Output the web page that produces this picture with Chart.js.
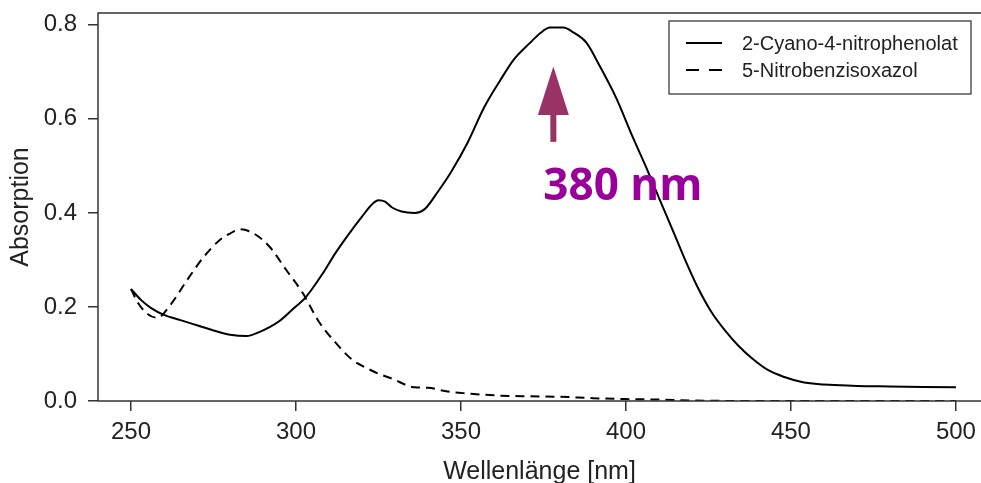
<!DOCTYPE html>
<html>
<head>
<meta charset="utf-8">
<title>Absorptionsspektren</title>
<script src="https://cdn.jsdelivr.net/npm/chart.js@4.4.1/dist/chart.umd.min.js"></script>
<style>
  body { margin: 0; background: #fff; overflow: hidden; }
  canvas { display: block; }
</style>
</head>
<body>
<canvas id="spectrum" width="981" height="483" style="width:981px;height:483px"></canvas>
<script>
// series labels
const seriesLabels = ['2-Cyano-4-nitrophenolat', '5-Nitrobenzisoxazol'];

// 2-Cyano-4-nitrophenolat (solid)
const cyanoWavelength = [250, 253, 256, 260, 265, 270, 275, 280, 285, 289, 292, 295, 299, 303, 308, 312, 316, 320, 323, 325, 327, 329, 332, 336, 339, 343, 347, 352, 357, 362, 366, 371, 374, 377, 381, 384, 388, 392, 397, 402, 406, 410, 414, 418, 422, 426, 430, 434, 438, 443, 448, 453, 458, 463, 470, 480, 490, 500];
const cyanoAbsorption = [0.238, 0.215, 0.198, 0.183, 0.172, 0.161, 0.150, 0.141, 0.138, 0.147, 0.157, 0.170, 0.195, 0.221, 0.270, 0.315, 0.355, 0.392, 0.418, 0.427, 0.424, 0.412, 0.403, 0.400, 0.408, 0.445, 0.487, 0.549, 0.624, 0.683, 0.726, 0.762, 0.782, 0.794, 0.794, 0.784, 0.762, 0.713, 0.645, 0.562, 0.499, 0.432, 0.366, 0.299, 0.238, 0.188, 0.150, 0.118, 0.092, 0.066, 0.051, 0.041, 0.036, 0.034, 0.032, 0.031, 0.030, 0.029];

// 5-Nitrobenzisoxazol (dashed)
const nitroWavelength = [250, 252, 255, 258, 262, 267, 272, 277, 280, 283, 287, 292, 297, 302, 307, 312, 317, 322, 325, 330, 333, 336, 340, 346, 352, 360, 370, 380, 390, 400, 410, 420, 440, 470, 500];
const nitroAbsorption = [0.238, 0.210, 0.185, 0.177, 0.205, 0.257, 0.306, 0.343, 0.356, 0.365, 0.357, 0.328, 0.279, 0.230, 0.168, 0.124, 0.088, 0.068, 0.058, 0.045, 0.035, 0.029, 0.028, 0.020, 0.016, 0.012, 0.010, 0.009, 0.006, 0.004, 0.003, 0.001, 0.000, 0.000, 0.000];

// axis ticks and visible range (the right end of the original plot is cut off)
const xTicks = [250, 300, 350, 400, 450, 500];
const yTicks = [0.0, 0.2, 0.4, 0.6, 0.8];
const xMin = 240, xMax = 507.6;
const yMin = 0, yMax = 0.825;

// annotation: peak marker
const peakWavelength = 378;
const peakLabel = '380 nm';
const arrowTip = 0.711, arrowHeadBase = 0.608, arrowTail = 0.551, labelBaseline = 0.428;

const toPoints = (xs, ys) => xs.map((x, i) => ({ x: x, y: ys[i] }));

// frame (left/top/bottom, right side is cut off) + legend in the top right corner
const frameAndLegend = {
    id: 'frameAndLegend',
    afterDatasetsDraw(chart) {
        const { ctx, chartArea: a, width } = chart;
        ctx.save();
        ctx.strokeStyle = '#333';
        ctx.lineWidth = 1.5;
        ctx.beginPath();
        ctx.moveTo(width, a.top);
        ctx.lineTo(a.left, a.top);
        ctx.lineTo(a.left, a.bottom);
        ctx.lineTo(width, a.bottom);
        ctx.stroke();

        // legend
        ctx.strokeStyle = '#555';
        ctx.strokeRect(669, 21, 302, 73);
        ctx.font = '20px "Liberation Sans", Arial, sans-serif';
        ctx.fillStyle = '#222';
        ctx.textBaseline = 'middle';
        chart.data.datasets.forEach((ds, i) => {
            const y = 43 + i * 27;
            ctx.strokeStyle = '#000';
            ctx.lineWidth = 2;
            ctx.setLineDash(i === 0 ? [] : [13, 10]);
            ctx.beginPath();
            ctx.moveTo(686, y);
            ctx.lineTo(722, y);
            ctx.stroke();
            ctx.setLineDash([]);
            ctx.fillText(ds.label, 742, y + 1);
        });
        ctx.restore();
    }
};

const peakMarker = {
    id: 'peakMarker',
    afterDatasetsDraw(chart) {
        const { ctx, scales } = chart;
        const x = scales.x.getPixelForValue(peakWavelength);
        const tip = scales.y.getPixelForValue(arrowTip);
        const base = scales.y.getPixelForValue(arrowHeadBase);
        const tail = scales.y.getPixelForValue(arrowTail);
        ctx.save();
        ctx.fillStyle = '#993366';
        ctx.fillRect(x - 3, base - 1, 6, tail - base + 1);
        ctx.beginPath();
        ctx.moveTo(x, tip);
        ctx.lineTo(x + 15.5, base);
        ctx.lineTo(x - 15.5, base);
        ctx.closePath();
        ctx.fill();
        ctx.fillStyle = '#990099';
        ctx.font = 'bold 44px "Open Sans", sans-serif';
        ctx.textBaseline = 'alphabetic';
        ctx.fillText(peakLabel, x - 10, scales.y.getPixelForValue(labelBaseline));
        ctx.restore();
    }
};

const tickFont = { family: '"Liberation Sans", Arial, sans-serif', size: 24 };
const titleFont = { family: '"Liberation Sans", Arial, sans-serif', size: 25, lineHeight: 0.9 };

new Chart(document.getElementById('spectrum').getContext('2d'), {
    type: 'line',
    data: {
        datasets: [{
            label: seriesLabels[0],
            data: toPoints(cyanoWavelength, cyanoAbsorption),
            borderColor: '#000',
            borderWidth: 2,
            pointRadius: 0,
            cubicInterpolationMode: 'monotone'
        }, {
            label: seriesLabels[1],
            data: toPoints(nitroWavelength, nitroAbsorption),
            borderColor: '#000',
            borderWidth: 2,
            borderDash: [9, 6],
            pointRadius: 0,
            cubicInterpolationMode: 'monotone'
        }]
    },
    options: {
        responsive: false,
        animation: false,
        layout: { padding: { top: 13, right: 0, left: 0, bottom: 0 } },
        plugins: { legend: { display: false }, tooltip: { enabled: false } },
        scales: {
            x: {
                type: 'linear',
                min: xMin,
                max: xMax,
                afterFit: (s) => { s.height = 82; s.paddingLeft = 0; s.paddingRight = 0; },
                afterBuildTicks: (s) => { s.ticks = xTicks.map(v => ({ value: v })); },
                grid: { drawOnChartArea: false, drawTicks: true, tickLength: 10, color: '#333', lineWidth: 1.5 },
                border: { display: false },
                ticks: { font: tickFont, color: '#222', padding: 7, maxRotation: 0 },
                title: { display: true, text: 'Wellenlänge [nm]', font: titleFont, color: '#222', padding: 0 }
            },
            y: {
                min: yMin,
                max: yMax,
                afterFit: (s) => { s.width = 98; s.paddingTop = 0; s.paddingBottom = 0; },
                afterBuildTicks: (s) => { s.ticks = yTicks.map(v => ({ value: v })); },
                grid: { drawOnChartArea: false, drawTicks: true, tickLength: 10, color: '#333', lineWidth: 1.5 },
                border: { display: false },
                ticks: { font: tickFont, color: '#222', padding: 11, callback: (v) => v.toFixed(1) },
                title: { display: true, text: 'Absorption', font: titleFont, color: '#222', padding: { top: 10, bottom: 0 } }
            }
        }
    },
    plugins: [frameAndLegend, peakMarker]
});
</script>
</body>
</html>
